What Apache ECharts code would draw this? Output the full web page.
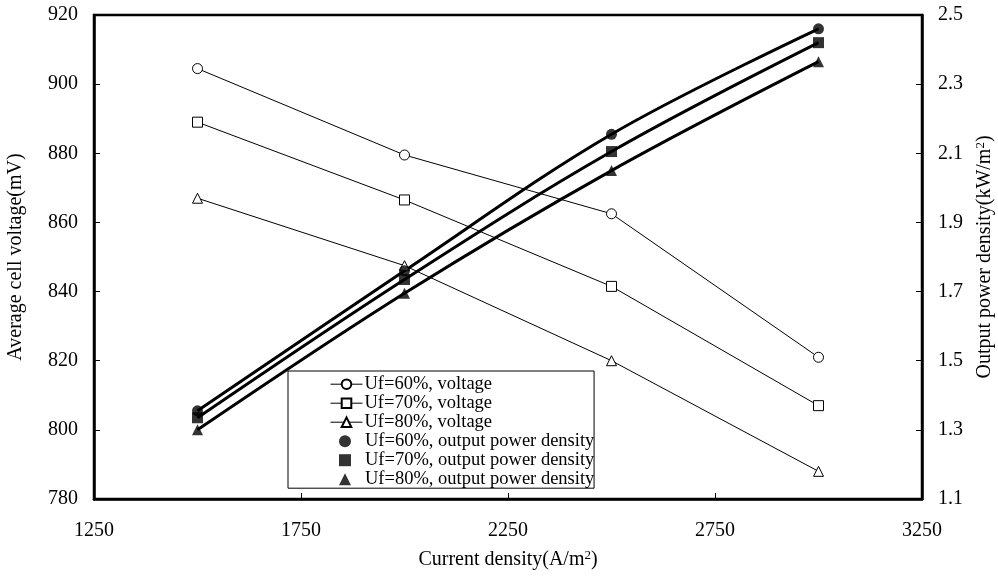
<!DOCTYPE html>
<html>
<head>
<meta charset="utf-8">
<script src="https://cdn.jsdelivr.net/npm/echarts@6/dist/echarts.min.js"></script>
<style>
html, body { margin: 0; padding: 0; background: #fff; }
#chart_main { width: 998px; height: 576px; }
</style>
</head>
<body>
<div id="chart_main"></div>
<script>
// 电流密度 (A/m2)
var currentDensity = [1500, 2000, 2500, 3000];
// 平均电池电压 (mV)
var voltage60 = [904.5, 879.5, 862.5, 821];
var voltage70 = [889, 866.5, 841.5, 807];
var voltage80 = [867, 847.5, 820, 788];
// 输出功率密度 (kW/m2)
var power60 = [1.355, 1.76, 2.155, 2.46];
var power70 = [1.335, 1.735, 2.105, 2.42];
var power80 = [1.30, 1.695, 2.05, 2.365];

var fontName = 'Liberation Serif';

function toPairs(yData) {
	var arr = [];
	for(var i = 0; i < currentDensity.length; i++) {
		arr.push([currentDensity[i], yData[i]]);
	}
	return arr;
}

//电压曲线
function voltageSeries(name, yData, symbol) {
	return {
		name: name,
		type: 'line',
		yAxisIndex: 0,
		data: toPairs(yData),
		symbol: symbol,
		symbolSize: 10,
		showSymbol: true,
		z: 3,
		lineStyle: { color: '#000', width: 1 },
		itemStyle: { color: '#fff', borderColor: '#000', borderWidth: 1 }
	};
}
//功率拟合曲线
function powerCurve(yData) {
	return {
		name: 'curve',
		type: 'line',
		yAxisIndex: 1,
		data: toPairs(yData),
		smooth: 0.35,
		showSymbol: false,
		silent: true,
		z: 2,
		lineStyle: { color: '#000', width: 3 }
	};
}
//功率点
function powerPoints(name, yData, symbol) {
	return {
		name: name,
		type: 'scatter',
		yAxisIndex: 1,
		data: toPairs(yData),
		symbol: symbol,
		symbolSize: 11,
		z: 4,
		itemStyle: { color: '#000' }
	};
}

var voltageNames = ['Uf=60%, voltage', 'Uf=70%, voltage', 'Uf=80%, voltage'];
var powerNames = ['Uf=60%, output power density', 'Uf=70%, output power density', 'Uf=80%, output power density'];

var option_main = {
	animation: false,
	backgroundColor: '#fff',
	textStyle: { fontFamily: fontName, color: '#000' },
	grid: {
		left: 94,
		right: 76,
		top: 15,
		bottom: 77,
		show: true,
		borderColor: '#000',
		borderWidth: 2.5,
		outerBoundsMode: 'none'
	},
	legend: [{
		// 电压图例 + 外框
		data: voltageNames,
		orient: 'vertical',
		left: 288,
		top: 371,
		padding: [3.7, 102, 56.5, 42],
		itemWidth: 32,
		itemHeight: 12,
		itemGap: 0,
		backgroundColor: '#fff',
		borderColor: '#000',
		borderWidth: 1,
		lineStyle: { width: 1, color: '#000' },
		textStyle: { fontFamily: fontName, fontSize: 18.5, color: '#000', lineHeight: 18.6, padding: [0, 0, 0, -3] }
	}, {
		// 功率图例
		data: powerNames,
		orient: 'vertical',
		left: 339,
		top: 431.7,
		padding: 0,
		itemWidth: 12,
		itemHeight: 12,
		itemGap: 0,
		textStyle: { fontFamily: fontName, fontSize: 18.5, color: '#000', lineHeight: 18.6, padding: [0, 0, 0, 9] }
	}],
	xAxis: {
		type: 'value',
		min: 1250,
		max: 3250,
		interval: 500,
		name: 'Current density(A/m{sup|2})',
		nameLocation: 'middle',
		nameGap: 50,
		nameTextStyle: {
			fontFamily: fontName,
			fontSize: 20,
			color: '#000',
			rich: { sup: { fontFamily: fontName, fontSize: 13, verticalAlign: 'top', padding: [0, 0, 8, 0] } }
		},
		axisLine: { lineStyle: { color: '#000', width: 2.5 } },
		axisTick: { inside: true, length: 6, lineStyle: { color: '#000', width: 1 } },
		axisLabel: {
			fontFamily: fontName,
			fontSize: 20,
			color: '#000',
			margin: 22,
			formatter: function(v) { return String(v); }
		},
		splitLine: { show: false }
	},
	yAxis: [{
		type: 'value',
		min: 780,
		max: 920,
		interval: 20,
		name: 'Average cell voltage(mV)',
		nameLocation: 'middle',
		nameGap: 68,
		nameTextStyle: { fontFamily: fontName, fontSize: 20, color: '#000' },
		axisLine: { lineStyle: { color: '#000', width: 2.5 } },
		axisTick: { inside: true, length: 6, lineStyle: { color: '#000', width: 1 } },
		axisLabel: { fontFamily: fontName, fontSize: 20, color: '#000', margin: 16 },
		splitLine: { show: false }
	}, {
		type: 'value',
		position: 'right',
		min: 1.1,
		max: 2.5,
		alignTicks: true,
		name: 'Output power density(kW/m{sup|2})',
		nameLocation: 'middle',
		nameGap: 52,
		nameTextStyle: {
			fontFamily: fontName,
			fontSize: 20,
			color: '#000',
			rich: { sup: { fontFamily: fontName, fontSize: 13, verticalAlign: 'top', padding: [0, 0, 8, 0] } }
		},
		axisLine: { lineStyle: { color: '#000', width: 2.5 } },
		axisTick: { inside: true, length: 6, lineStyle: { color: '#000', width: 1 } },
		axisLabel: {
			fontFamily: fontName,
			fontSize: 20,
			color: '#000',
			margin: 16,
			formatter: function(v) { return v.toFixed(1); }
		},
		splitLine: { show: false }
	}],
	series: [
		voltageSeries(voltageNames[0], voltage60, 'circle'),
		voltageSeries(voltageNames[1], voltage70, 'rect'),
		voltageSeries(voltageNames[2], voltage80, 'triangle'),
		powerCurve(power60),
		powerCurve(power70),
		powerCurve(power80),
		powerPoints(powerNames[0], power60, 'circle'),
		powerPoints(powerNames[1], power70, 'rect'),
		powerPoints(powerNames[2], power80, 'triangle')
	]
};

var mainChart = echarts.init(document.getElementById('chart_main'));
mainChart.setOption(option_main);
</script>
</body>
</html>
